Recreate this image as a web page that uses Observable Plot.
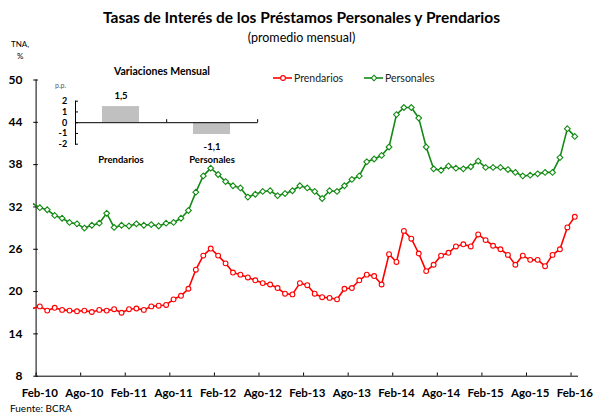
<!DOCTYPE html>
<html><head><meta charset="utf-8">
<script src="https://cdn.jsdelivr.net/npm/d3@7"></script>
<script src="https://cdn.jsdelivr.net/npm/@observablehq/plot@0.6"></script>
<style>
body{margin:0;background:#fff;font-family:Lato,"DejaVu Sans",sans-serif;}
#wrap{position:relative;width:595px;height:414px;overflow:hidden;}
.abs{position:absolute;white-space:nowrap;line-height:1;}
#wrap svg{position:absolute;left:0;top:0;overflow:visible;}
</style></head><body><div id="wrap"></div>
<script>
// Monthly series, Feb-10 (index 0) to Feb-16 (index 72); index -1 = Jan-10 (partly hidden)
const startIndex = -1;
const prendarios = [17.6,
  17.9,17.3,17.7,17.4,17.3,17.2,17.3,17.1,17.4,17.3,17.5,17.0,
  17.5,17.6,17.4,17.9,18.0,18.1,18.9,19.4,20.4,23.1,25.1,26.1,
  25.1,24.0,22.7,22.4,22.0,21.6,21.2,21.0,20.5,19.7,19.6,21.2,
  20.9,19.7,19.2,19.1,18.9,20.4,20.5,21.6,22.4,22.2,21.0,25.3,
  24.2,28.6,27.5,25.4,22.9,23.8,25.1,25.5,26.4,26.7,26.4,28.1,
  27.3,26.5,26.0,25.2,23.8,25.1,24.5,24.5,23.6,25.2,26.0,29.1,
  30.6];
const personales = [32.5,
  31.9,31.6,30.8,30.4,29.8,29.6,29.0,29.4,29.7,31.1,29.1,29.4,
  29.3,29.6,29.4,29.5,29.3,29.7,29.8,30.4,31.5,34.1,36.4,37.5,
  36.6,35.6,35.0,34.7,33.4,33.8,34.2,34.3,33.6,33.9,34.3,35.0,
  34.7,34.2,33.2,34.3,34.2,35.0,35.9,36.4,38.4,38.8,39.3,40.5,
  45.1,46.1,46.1,44.6,40.5,37.4,37.2,37.8,37.5,37.4,37.7,38.5,
  37.6,37.6,37.6,37.3,36.9,36.4,36.5,36.7,36.9,36.9,39.0,43.1,
  42.0];
const tickLabels = ["Feb-10","Ago-10","Feb-11","Ago-11","Feb-12","Ago-12","Feb-13","Ago-13","Feb-14","Ago-14","Feb-15","Ago-15","Feb-16"];
const yTicks = [8,14,20,26,32,38,44,50];
// Inset: monthly variation (p.p.)
const insetCats = ["Prendarios","Personales"];
const insetVals = [1.5,-1.1];
const insetTicks = [-2,-1,0,1,2];

const RED = "#ff0000", GREEN = "#138a13";
const rows = [];
prendarios.forEach((v,i)=>rows.push({i:i+startIndex, v, s:"Prendarios"}));
personales.forEach((v,i)=>rows.push({i:i+startIndex, v, s:"Personales"}));
const shown = rows.filter(d=>d.i>=0);
const labelIdx = tickLabels.map((_,k)=>k*6);
const boundaryIdx = tickLabels.map((_,k)=>k*6-0.5);

const main = Plot.plot({
  width:595, height:414,
  marginLeft:33, marginRight:17, marginTop:79.5, marginBottom:38.3,
  x:{type:"linear", domain:[-0.85,72.5], axis:null},
  y:{domain:[8,50], axis:null},
  style:{fontFamily:"Lato, sans-serif", background:"transparent"},
  marks:[
    Plot.ruleX([-0.5],{y1:8,y2:50,stroke:"#000",strokeWidth:1}),
    Plot.ruleY([8],{x1:-0.5,x2:72.5,stroke:"#000",strokeWidth:1}),
    Plot.ruleY(yTicks,{x1:-0.82,x2:-0.2,stroke:"#000"}),
    Plot.ruleX(boundaryIdx,{y1:8,y2:8.45,stroke:"#000"}),
    Plot.axisY({ticks:yTicks, label:null, tickSize:0, tickPadding:11, fontWeight:"bold", fontSize:12, fill:"#000"}),
    Plot.axisX({ticks:labelIdx, label:null, tickSize:0, tickPadding:13, fontWeight:"bold", fontSize:11.5, fill:"#000",
      tickFormat:i=>tickLabels[Math.round(i/6)]}),
    Plot.line(rows.filter(d=>d.s==="Prendarios"),{x:"i",y:"v",stroke:RED,strokeWidth:1.6,clip:true}),
    Plot.line(rows.filter(d=>d.s==="Personales"),{x:"i",y:"v",stroke:GREEN,strokeWidth:1.6,clip:true}),
    Plot.dot(shown.filter(d=>d.s==="Prendarios"),{x:"i",y:"v",r:2.4,fill:"#fff",stroke:RED,strokeWidth:1.1}),
    Plot.dot(shown.filter(d=>d.s==="Personales"),{x:"i",y:"v",r:2.6,symbol:"diamond2",fill:"#fff",stroke:GREEN,strokeWidth:1.1})
  ]
});

const insetData = insetCats.map((c,k)=>({cat:c, val:insetVals[k]}));
const iw=270, ih=120, iml=75, imr=12.3, imt=45.7, imb=31.3;
const halfBand = (iw-iml-imr)/insetCats.length/2;
const inset = Plot.plot({
  width:iw, height:ih, marginLeft:iml, marginRight:imr, marginTop:imt, marginBottom:imb,
  x:{type:"band", domain:insetCats, padding:0, axis:null},
  y:{domain:[-2,2], axis:null},
  style:{fontFamily:"Lato, sans-serif", background:"transparent"},
  marks:[
    Plot.barY(insetData,{x:"cat",y:"val",fill:"#c0c0c0",insetLeft:27,insetRight:27}),
    Plot.frame({anchor:"left",stroke:"#000"}),
    Plot.ruleY([0],{stroke:"#000",strokeWidth:1}),
    Plot.ruleX(insetCats,{x:d=>d,y1:0,y2:0.28,dx:halfBand,stroke:"#000"}),
    Plot.axisY({ticks:insetTicks, label:null, tickFormat:d=>String(d), tickSize:-3, tickPadding:11.3, fontWeight:"bold", fontSize:9, fill:"#000"}),
    Plot.axisX({label:null, tickSize:0, tickPadding:12, fontWeight:"bold", fontSize:9.5, fill:"#000"}),
    Plot.text(insetData.filter(d=>d.val>=0),{x:"cat",y:"val",text:d=>d.val.toFixed(1).replace(".",","),dy:-11,fontWeight:"bold",fontSize:9.5,fill:"#000"}),
    Plot.text(insetData.filter(d=>d.val<0),{x:"cat",y:"val",text:d=>d.val.toFixed(1).replace(".",","),dy:12,fontWeight:"bold",fontSize:9.5,fill:"#000"})
  ]
});

const wrap = document.getElementById("wrap");
wrap.appendChild(main);
inset.style.top = "55px";
wrap.appendChild(inset);

function addText(txt, css){
  const d=document.createElement("div"); d.className="abs"; d.textContent=txt;
  Object.assign(d.style, css); wrap.appendChild(d); return d;
}
addText("Tasas de Interés de los Préstamos Personales y Prendarios",{left:"0",width:"603px",textAlign:"center",top:"10px",fontSize:"15.5px",fontWeight:"bold",color:"#000"});
addText("(promedio mensual)",{left:"0",width:"603px",textAlign:"center",top:"32px",fontSize:"12.5px",color:"#000"});
addText("TNA,",{left:"11px",top:"40px",fontSize:"8px",color:"#000"});
addText("%",{left:"17px",top:"52px",fontSize:"8px",color:"#000"});
addText("Fuente: BCRA",{left:"10px",top:"403px",fontSize:"10px",color:"#000"});
addText("Variaciones Mensual",{left:"114px",top:"66px",fontSize:"10.5px",fontWeight:"bold",color:"#000"});
addText("p.p.",{left:"55px",top:"82px",fontSize:"7px",color:"#555"});

// legend
const legendItems = [{name:"Prendarios",color:RED,sym:"circle",x:273},{name:"Personales",color:GREEN,sym:"diamond",x:364}];
legendItems.forEach(it=>{
  const d=document.createElement("div"); d.className="abs";
  d.style.left=it.x+"px"; d.style.top="71px"; d.style.fontSize="10.5px"; d.style.color="#222";
  d.style.display="flex"; d.style.alignItems="center";
  const mk = it.sym==="circle"
    ? `<circle cx="10" cy="7" r="2.4" fill="#fff" stroke="${it.color}" stroke-width="1.1"/>`
    : `<path d="M10,4.2L12.8,7L10,9.8L7.2,7Z" fill="#fff" stroke="${it.color}" stroke-width="1.1"/>`;
  d.innerHTML = `<svg width="19" height="14" style="position:static;margin-right:2px"><line x1="0" x2="19" y1="7" y2="7" stroke="${it.color}" stroke-width="1.6"/>${mk}</svg><span>${it.name}</span>`;
  wrap.appendChild(d);
});
</script></body></html>
